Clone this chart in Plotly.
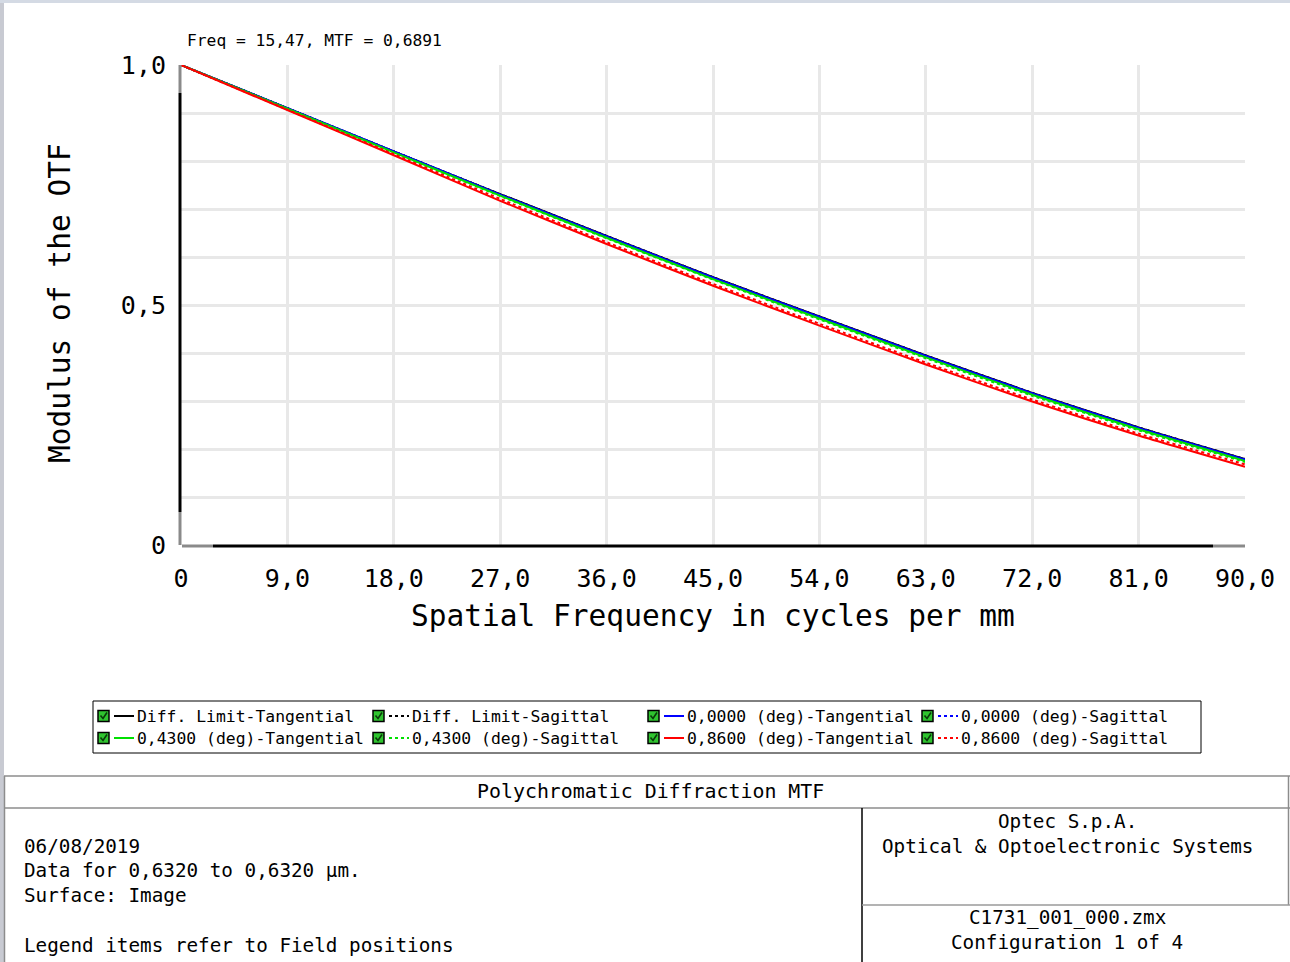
import plotly.graph_objects as go

# ---------------- data ----------------
freq = [0, 9, 18, 27, 36, 45, 54, 63, 72, 81, 90]
diff_tan = [1.0, 0.910, 0.820, 0.731, 0.644, 0.558, 0.476, 0.395, 0.317, 0.245, 0.179]
diff_sag = [1.0, 0.910, 0.820, 0.731, 0.644, 0.558, 0.476, 0.395, 0.317, 0.245, 0.179]
f0000_tan = [1.0, 0.910, 0.820, 0.730, 0.643, 0.557, 0.475, 0.394, 0.316, 0.244, 0.178]
f0000_sag = [1.0, 0.910, 0.820, 0.730, 0.643, 0.557, 0.475, 0.394, 0.316, 0.244, 0.178]
f0430_tan = [1.0, 0.909, 0.818, 0.728, 0.640, 0.554, 0.472, 0.391, 0.313, 0.241, 0.175]
f0430_sag = [1.0, 0.909, 0.817, 0.727, 0.639, 0.553, 0.470, 0.389, 0.311, 0.239, 0.173]
f0860_tan = [1.0, 0.906, 0.812, 0.717, 0.627, 0.540, 0.457, 0.376, 0.299, 0.228, 0.163]
f0860_sag = [1.0, 0.907, 0.814, 0.721, 0.631, 0.544, 0.461, 0.380, 0.303, 0.232, 0.168]

x_tickvals = [0, 9, 18, 27, 36, 45, 54, 63, 72, 81, 90]
x_ticktext = ["0", "9,0", "18,0", "27,0", "36,0", "45,0", "54,0", "63,0", "72,0", "81,0", "90,0"]
y_tickvals = [0, 0.1, 0.2, 0.3, 0.4, 0.5, 0.6, 0.7, 0.8, 0.9, 1.0]
y_ticktext = ["0", "", "", "", "", "0,5", "", "", "", "", "1,0"]

series = [
    ("Diff. Limit-Tangential", diff_tan, "#000000", "solid"),
    ("Diff. Limit-Sagittal", diff_sag, "#000000", "dot"),
    ("0,0000 (deg)-Tangential", f0000_tan, "#0000ff", "solid"),
    ("0,0000 (deg)-Sagittal", f0000_sag, "#0000ff", "dot"),
    ("0,4300 (deg)-Tangential", f0430_tan, "#00e000", "solid"),
    ("0,4300 (deg)-Sagittal", f0430_sag, "#00e000", "dot"),
    ("0,8600 (deg)-Tangential", f0860_tan, "#ff0000", "solid"),
    ("0,8600 (deg)-Sagittal", f0860_sag, "#ff0000", "dot"),
]

W, H = 1290, 962
MONO = "DejaVu Sans Mono"


def px(x):
    return x / W


def py(y):
    return 1 - y / H


fig = go.Figure()
for name, vals, col, dash in series:
    fig.add_trace(go.Scatter(x=freq, y=vals, mode="lines", name=name,
                             line=dict(color=col, width=2, dash=dash, shape="spline", smoothing=0.6),
                             showlegend=False))

shapes = []
annotations = []

# background screenshot edges
shapes.append(dict(type="rect", xref="paper", yref="paper", x0=px(0), x1=px(4), y0=py(962), y1=py(0),
                   fillcolor="#c8cad2", line=dict(width=0), layer="below"))
shapes.append(dict(type="rect", xref="paper", yref="paper", x0=px(0), x1=px(1290), y0=py(3), y1=py(0),
                   fillcolor="#d4dae4", line=dict(width=0), layer="below"))


def hline(y, x0, x1, color, width):
    shapes.append(dict(type="line", xref="paper", yref="paper", x0=px(x0), x1=px(x1), y0=py(y), y1=py(y),
                       line=dict(color=color, width=width)))


def vline(x, y0, y1, color, width):
    shapes.append(dict(type="line", xref="paper", yref="paper", x0=px(x), x1=px(x), y0=py(y0), y1=py(y1),
                       line=dict(color=color, width=width)))


# Zemax style axis lines
vline(180, 65, 93, "#8a8a8a", 3)
vline(180, 93, 512, "#000000", 3)
vline(180, 512, 545, "#8a8a8a", 3)
hline(546, 182, 213, "#8a8a8a", 3)
hline(546, 213, 1213, "#000000", 3)
hline(546, 1213, 1245, "#8a8a8a", 3)

# legend box
shapes.append(dict(type="rect", xref="paper", yref="paper", x0=px(93), x1=px(1201), y0=py(753), y1=py(701),
                   line=dict(color="#000000", width=1), fillcolor="rgba(0,0,0,0)"))
col_x = [98, 373, 648, 922]
row_y = [716, 738]
for i, (name, vals, col, dash) in enumerate(series):
    idx_row = 0 if i < 4 else 1
    idx_col = i if i < 4 else i - 4
    x0 = col_x[idx_col]
    yc = row_y[idx_row]
    shapes.append(dict(type="rect", xref="paper", yref="paper", x0=px(x0), x1=px(x0 + 11),
                       y0=py(yc + 5.5), y1=py(yc - 5.5), line=dict(color="#000000", width=1.5),
                       fillcolor="#2fc42f"))
    shapes.append(dict(type="path", xref="paper", yref="paper",
                       path="M {},{} L {},{} L {},{}".format(px(x0 + 2.5), py(yc - 0.5), px(x0 + 5), py(yc + 2.5),
                                                          px(x0 + 9), py(yc - 3.5)),
                       line=dict(color="#0a3a0a", width=1.6)))
    shapes.append(dict(type="line", xref="paper", yref="paper", x0=px(x0 + 16), x1=px(x0 + 36),
                       y0=py(yc), y1=py(yc), line=dict(color=col, width=2, dash=dash)))
    annotations.append(dict(xref="paper", yref="paper", x=px(x0 + 37), y=py(yc), text=name,
                            showarrow=False, xanchor="left", yanchor="middle",
                            font=dict(family=MONO, size=16.4, color="#000000")))

# bottom table lines
hline(776, 4, 1290, "#8c8c8c", 1.5)
hline(808, 4, 1290, "#8c8c8c", 1.5)
vline(4.5, 776, 962, "#8c8c8c", 1.5)
vline(1288.5, 776, 905, "#8c8c8c", 1.5)
vline(862, 808, 962, "#000000", 1.5)
hline(905, 862, 1290, "#9a9a9a", 1.5)


def text(x, y, s, size, anchor="left"):
    annotations.append(dict(xref="paper", yref="paper", x=px(x), y=py(y), text=s, showarrow=False,
                            xanchor=anchor, yanchor="middle",
                            font=dict(family=MONO, size=size, color="#000000")))


text(185, 40, "Freq = 15,47, MTF = 0,6891", 16.3)
text(650, 791, "Polychromatic Diffraction MTF", 19.9, "center")
text(22, 846, "06/08/2019", 19.3)
text(22, 870, "Data for 0,6320 to 0,6320 µm.", 19.3)
text(22, 895, "Surface: Image", 19.3)
text(22, 945, "Legend items refer to Field positions", 19.3)
text(1067, 821, "Optec S.p.A.", 19.3, "center")
text(1067, 846, "Optical &amp; Optoelectronic Systems", 19.3, "center")
text(1067, 917, "C1731_001_000.zmx", 19.3, "center")
text(1067, 942, "Configuration 1 of 4", 19.3, "center")

# axis titles
text(713, 616, "Spatial Frequency in cycles per mm", 29.5, "center")
annotations.append(dict(xref="paper", yref="paper", x=px(60), y=py(303), text="Modulus of the OTF",
                        showarrow=False, textangle=-90, xanchor="center", yanchor="middle",
                        font=dict(family=MONO, size=29.5, color="#000000")))

fig.update_layout(
    width=W, height=H,
    margin=dict(l=0, r=0, t=0, b=0),
    paper_bgcolor="#ffffff", plot_bgcolor="#ffffff",
    showlegend=False,
    shapes=shapes,
    annotations=annotations,
    xaxis=dict(domain=[px(181), px(1245)], range=[0, 90], tickvals=x_tickvals, ticktext=x_ticktext,
               showgrid=True, gridcolor="#e8e8e8", gridwidth=3, zeroline=False, showline=False,
               ticks="", ticklabelstandoff=16, automargin=False,
               tickfont=dict(family=MONO, size=25, color="#000000")),
    yaxis=dict(domain=[py(545), py(65)], range=[0, 1], tickvals=y_tickvals, ticktext=y_ticktext,
               showgrid=True, gridcolor="#e8e8e8", gridwidth=3, zeroline=False, showline=False,
               ticks="", ticklabelstandoff=14, automargin=False,
               tickfont=dict(family=MONO, size=25, color="#000000")),
)

fig.write_html("out.html", config={"displayModeBar": False},
               post_script="document.body.style.margin='0';document.body.style.overflow='hidden';")
